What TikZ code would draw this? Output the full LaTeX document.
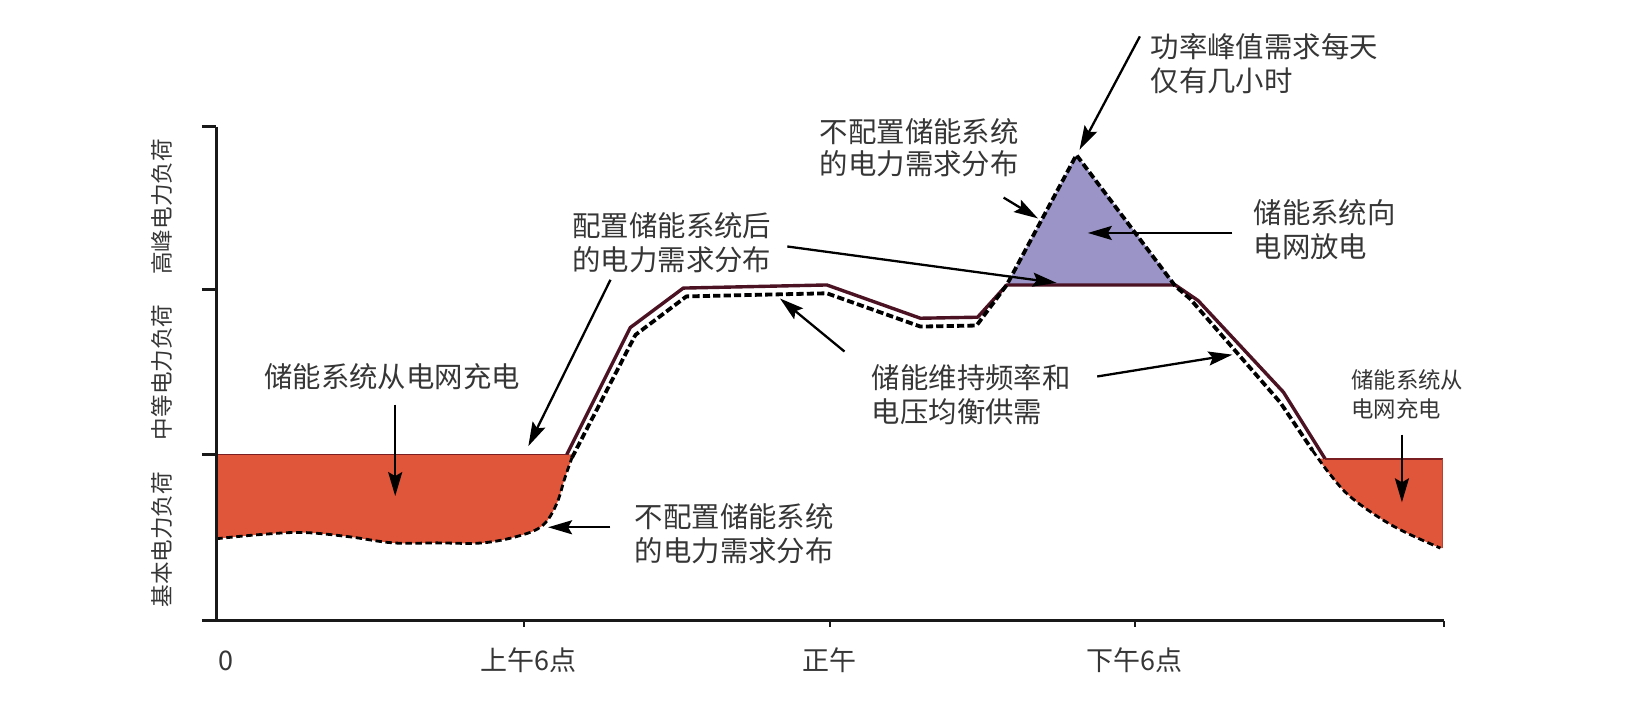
\documentclass[tikz,border=0pt]{standalone}
\usepackage{fontspec}
\setmainfont{Noto Sans CJK SC}
\usetikzlibrary{arrows.meta}
\definecolor{txtgray}{HTML}{363636}
\definecolor{chargered}{HTML}{E0563A}
\definecolor{discharge}{HTML}{9A95C6}
\definecolor{maroon}{HTML}{4A1222}
\definecolor{edgered}{HTML}{7A1E22}
\tikzset{
  lbl/.style={text=txtgray, font=\fontsize{14.2}{17}\selectfont, inner sep=0pt, align=left},
  smalllbl/.style={text=txtgray, font=\fontsize{11.2}{14.5}\selectfont, inner sep=0pt, align=left},
  ylbl/.style={text=txtgray, font=\fontsize{11.3}{13}\selectfont, inner sep=0pt, rotate=90},
  xlbl/.style={text=txtgray, font=\fontsize{13.5}{15}\selectfont, inner sep=0pt},
  arr/.style={draw=black, line width=1.15pt, -{Stealth[length=12pt,width=7pt,inset=2pt]}},
  axisline/.style={draw=black!90, line width=1.5pt},
  withline/.style={draw=maroon, line width=1.7pt, line join=round},
  withoutline/.style={draw=black, line width=1.9pt, dash pattern=on 3.6pt off 1.6pt, line join=round},
  thindash/.style={draw=black, line width=1.4pt, dash pattern=on 3.2pt off 1.8pt},
  edgeline/.style={draw=edgered, line width=0.9pt}
}
\begin{document}
\begin{tikzpicture}[x=0.52pt,y=-0.52pt]
\useasboundingbox[fill=white] (0,0) rectangle (1567.3,686.5);

% fills
\fill[chargered] (208,437) -- (549,437) -- plot[smooth,tension=0.6] coordinates {(550,440) (543,460) (535,485) (522,505) (500,515) (464,522) (420,522) (378,522) (335,516) (291,512) (250,514) (208,518)} -- cycle;
\fill[chargered] (1268,441) -- (1387,441) -- (1387,527) -- plot[smooth,tension=0.6] coordinates {(1385,527) (1340,506) (1300,479) (1278,455) (1268,441)} -- cycle;
\fill[discharge] (968,274) -- (1035,149) -- (1130,274) -- cycle;

% red top edges
\draw[edgeline] (208,437) -- (545,437);
\draw[edgeline] (1274,441) -- (1387,441);
\draw[edgeline, draw=chargered!80!black] (1387,441) -- (1387,527);

% with storage
\draw[withline] (545,437) -- (606,315) -- (657,277) -- (795,274) -- (885,306) -- (940,305) -- (968,274) -- (1130,274) -- (1152,289) -- (1234,377) -- (1274,441);

% without storage
\draw[thindash] plot[smooth,tension=0.6] coordinates {(208,518) (250,514) (291,512) (335,516) (378,522) (420,522) (464,522) (500,515) (522,505) (535,485) (543,460) (550,440)};
\draw[withoutline] (550,440) -- (611,322) -- (660,285) -- (795,282) -- (885,314) -- (939,313) -- (968,274) -- (1035,149) -- (1130,275) -- (1144,287) -- (1231,387) -- (1262,433);
\draw[thindash] plot[smooth,tension=0.6] coordinates {(1262,433) (1278,455) (1300,479) (1340,506) (1385,527)};

% axes
\coordinate (yt) at (208,122);
\coordinate (o) at (208,597);
\coordinate (xl) at (194,597);
\coordinate (xr) at (1388,597);
\draw[axisline] (yt) -- (o);
\draw[axisline] (xl) -- (xr);
\foreach \yy in {122,278,437} \draw[axisline] (194,\yy) -- (208,\yy);
\foreach \xx in {504,798,1091,1388} \draw[axisline, line width=1pt] (\xx,597) -- (\xx,603);

% axis labels
\node[xlbl] (x0) at (217,635) {0};
\node[xlbl] (x1) at (508,635) {上午6点};
\node[xlbl] (x2) at (798,635) {正午};
\node[xlbl] (x3) at (1091,635) {下午6点};
\node[ylbl] (y1) at (156,199) {高峰电力负荷};
\node[ylbl] (y2) at (156,358) {中等电力负荷};
\node[ylbl] (y3) at (156,519) {基本电力负荷};

% labels
\node[lbl] (t1) at (377,362) {储能系统从电网充电};
\node[lbl, anchor=west] (t2) at (550,233) {配置储能系统后\\的电力需求分布};
\node[lbl, anchor=west] (t3) at (610,513) {不配置储能系统\\的电力需求分布};
\node[lbl, anchor=west, font=\fontsize{14.2}{15.8}\selectfont] (t4) at (788,142) {不配置储能系统\\的电力需求分布};
\node[lbl, anchor=west] (t5) at (1106,61) {功率峰值需求每天\\仅有几小时};
\node[lbl, anchor=west] (t6) at (1205,221) {储能系统向\\电网放电};
\node[lbl, anchor=west] (t7) at (838,379) {储能维持频率和\\电压均衡供需};
\node[smalllbl, anchor=west] (t8) at (1299,379) {储能系统从\\电网充电};

% arrows
\coordinate (a1s) at (380,389); \coordinate (a1e) at (380,477);
\coordinate (a2s) at (587,269); \coordinate (a2e) at (508,429);
\coordinate (a3s) at (587,507); \coordinate (a3e) at (527,507);
\coordinate (a4s) at (757,237); \coordinate (a4e) at (1016,272);
\coordinate (a5s) at (965,190); \coordinate (a5e) at (998,210);
\coordinate (a6s) at (1096,35); \coordinate (a6e) at (1038,144);
\coordinate (a7s) at (1185,224); \coordinate (a7e) at (1046,224);
\coordinate (a8s) at (812,338); \coordinate (a8e) at (750,287);
\coordinate (a9s) at (1055,362); \coordinate (a9e) at (1185,341);
\coordinate (a10s) at (1348,418); \coordinate (a10e) at (1348,483);
\foreach \a in {a1,a2,a3,a4,a5,a6,a7,a8,a9,a10} \draw[arr] (\a s) -- (\a e);
\end{tikzpicture}
\end{document}
